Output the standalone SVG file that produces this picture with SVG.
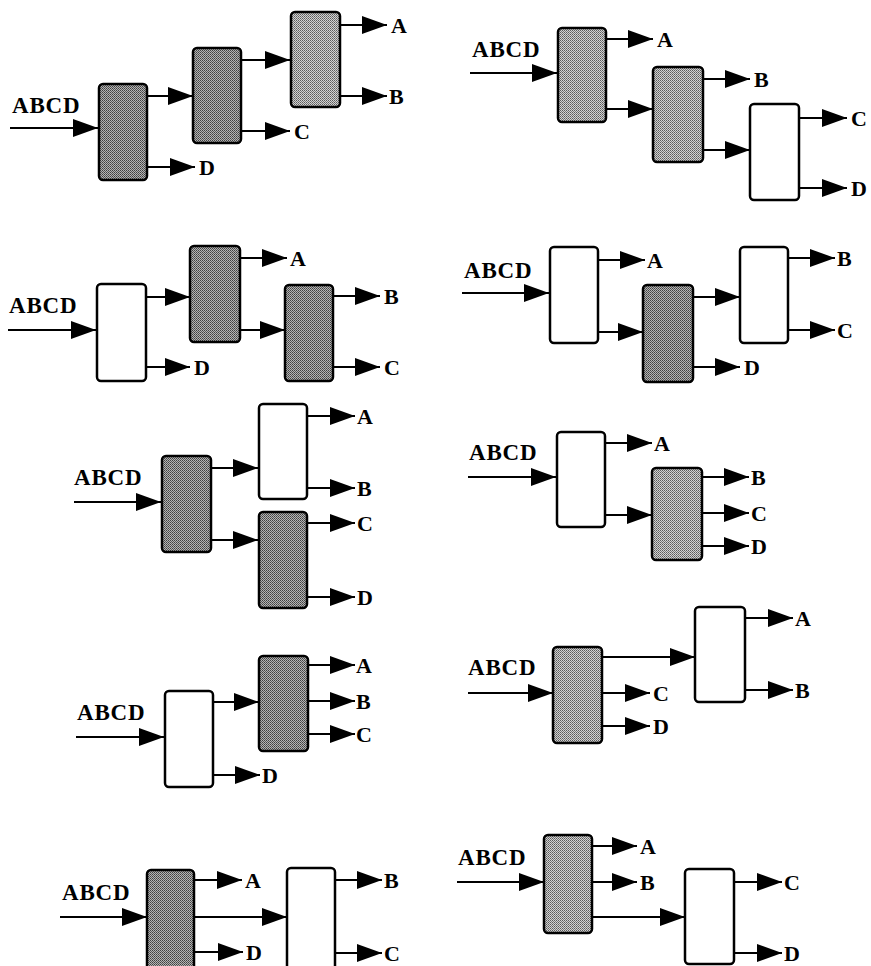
<svg xmlns="http://www.w3.org/2000/svg" width="871" height="966" viewBox="0 0 871 966">
<defs>
<pattern id="dk" width="2" height="2" patternUnits="userSpaceOnUse"><rect width="2" height="2" fill="#b4b4b4"/><rect width="1" height="1" fill="#404040"/><rect x="1" y="1" width="1" height="1" fill="#5a5a5a"/></pattern>
<pattern id="lt" width="2" height="2" patternUnits="userSpaceOnUse"><rect width="2" height="2" fill="#d2d2d2"/><rect width="1" height="1" fill="#5a5a5a"/><rect x="1" y="1" width="1" height="1" fill="#7a7a7a"/></pattern>
<marker id="ah" markerWidth="25" markerHeight="18" refX="25" refY="9" orient="auto" markerUnits="userSpaceOnUse"><path d="M0,0 L25,9 L0,18 z" fill="#000"/></marker>
</defs>
<style>
.b{stroke:#000;stroke-width:2.5;rx:4;ry:4}
.w{fill:#fff}
.d{fill:url(#dk)}
.l{fill:url(#lt)}
.c line{stroke:#000;stroke-width:2;marker-end:url(#ah)}
text{font-family:"Liberation Serif","Times New Roman",serif;font-weight:bold;font-size:22px;fill:#000}
.in{font-size:23px;letter-spacing:0.8px}
</style>
<rect width="871" height="966" fill="#fff"/>

<!-- Diagram 1 -->
<g id="d1">
<text class="in" x="12" y="113">ABCD</text>
<g id="d1n1"><rect class="b d" x="99" y="84" width="48" height="96"/></g>
<g id="d1n2"><rect class="b d" x="193" y="48" width="48" height="95"/></g>
<g id="d1n3"><rect class="b l" x="291" y="12" width="49" height="95"/></g>
<g class="c">
<line x1="10" y1="128" x2="98" y2="128"/>
<line x1="147" y1="96" x2="193" y2="96"/>
<line x1="147" y1="167" x2="195" y2="167"/>
<line x1="241" y1="60" x2="290" y2="60"/>
<line x1="241" y1="131" x2="290" y2="131"/>
<line x1="340" y1="25" x2="387" y2="25"/>
<line x1="340" y1="96" x2="387" y2="96"/>
</g>
<text x="199" y="175">D</text><text x="294" y="139">C</text><text x="391" y="33">A</text><text x="389" y="104">B</text>
</g>

<!-- Diagram 2 -->
<g id="d2">
<text class="in" x="472" y="57">ABCD</text>
<g id="d2n1"><rect class="b l" x="558" y="28" width="48" height="94"/></g>
<g id="d2n2"><rect class="b l" x="653" y="67" width="50" height="95"/></g>
<g id="d2n3"><rect class="b w" x="750" y="104" width="49" height="96"/></g>
<g class="c">
<line x1="470" y1="73" x2="557" y2="73"/>
<line x1="606" y1="39" x2="653" y2="39"/>
<line x1="606" y1="109" x2="653" y2="109"/>
<line x1="703" y1="79" x2="750" y2="79"/>
<line x1="703" y1="150" x2="750" y2="150"/>
<line x1="799" y1="118" x2="847" y2="118"/>
<line x1="799" y1="188" x2="847" y2="188"/>
</g>
<text x="657" y="47">A</text><text x="754" y="87">B</text><text x="851" y="126">C</text><text x="851" y="196">D</text>
</g>

<!-- Diagram 3 -->
<g id="d3">
<text class="in" x="9" y="313">ABCD</text>
<g id="d3n1"><rect class="b w" x="97" y="284" width="49" height="97"/></g>
<g id="d3n2"><rect class="b d" x="190" y="246" width="50" height="96"/></g>
<g id="d3n3"><rect class="b d" x="285" y="285" width="48" height="96"/></g>
<g class="c">
<line x1="8" y1="330" x2="96" y2="330"/>
<line x1="146" y1="297" x2="190" y2="297"/>
<line x1="146" y1="367" x2="190" y2="367"/>
<line x1="240" y1="258" x2="287" y2="258"/>
<line x1="240" y1="330" x2="285" y2="330"/>
<line x1="333" y1="296" x2="380" y2="296"/>
<line x1="333" y1="367" x2="380" y2="367"/>
</g>
<text x="194" y="375">D</text><text x="290" y="266">A</text><text x="384" y="304">B</text><text x="384" y="375">C</text>
</g>

<!-- Diagram 4 -->
<g id="d4">
<text class="in" x="464" y="278">ABCD</text>
<g id="d4n1"><rect class="b w" x="550" y="247" width="48" height="96"/></g>
<g id="d4n2"><rect class="b d" x="643" y="285" width="50" height="97"/></g>
<g id="d4n3"><rect class="b w" x="740" y="247" width="48" height="96"/></g>
<g class="c">
<line x1="462" y1="293" x2="549" y2="293"/>
<line x1="598" y1="260" x2="645" y2="260"/>
<line x1="598" y1="332" x2="643" y2="332"/>
<line x1="693" y1="297" x2="740" y2="297"/>
<line x1="693" y1="367" x2="740" y2="367"/>
<line x1="788" y1="258" x2="835" y2="258"/>
<line x1="788" y1="330" x2="835" y2="330"/>
</g>
<text x="647" y="268">A</text><text x="744" y="375">D</text><text x="837" y="266">B</text><text x="837" y="338">C</text>
</g>

<!-- Diagram 5 -->
<g id="d5">
<text class="in" x="74" y="485">ABCD</text>
<g id="d5n1"><rect class="b d" x="162" y="456" width="49" height="96"/></g>
<g id="d5n2"><rect class="b w" x="259" y="404" width="48" height="95"/></g>
<g id="d5n3"><rect class="b d" x="259" y="512" width="48" height="96"/></g>
<g class="c">
<line x1="74" y1="502" x2="161" y2="502"/>
<line x1="211" y1="468" x2="258" y2="468"/>
<line x1="211" y1="540" x2="258" y2="540"/>
<line x1="307" y1="416" x2="355" y2="416"/>
<line x1="307" y1="488" x2="355" y2="488"/>
<line x1="307" y1="523" x2="355" y2="523"/>
<line x1="307" y1="597" x2="355" y2="597"/>
</g>
<text x="357" y="424">A</text><text x="357" y="496">B</text><text x="357" y="531">C</text><text x="357" y="605">D</text>
</g>

<!-- Diagram 6 -->
<g id="d6">
<text class="in" x="469" y="460">ABCD</text>
<g id="d6n1"><rect class="b w" x="557" y="432" width="48" height="95"/></g>
<g id="d6n2"><rect class="b l" x="652" y="468" width="50" height="92"/></g>
<g class="c">
<line x1="468" y1="477" x2="556" y2="477"/>
<line x1="605" y1="443" x2="652" y2="443"/>
<line x1="605" y1="515" x2="652" y2="515"/>
<line x1="702" y1="477" x2="749" y2="477"/>
<line x1="702" y1="513" x2="749" y2="513"/>
<line x1="702" y1="546" x2="749" y2="546"/>
</g>
<text x="654" y="451">A</text><text x="751" y="485">B</text><text x="751" y="521">C</text><text x="751" y="554">D</text>
</g>

<!-- Diagram 7 -->
<g id="d7">
<text class="in" x="77" y="720">ABCD</text>
<g id="d7n1"><rect class="b w" x="165" y="691" width="48" height="96"/></g>
<g id="d7n2"><rect class="b d" x="259" y="656" width="49" height="95"/></g>
<g class="c">
<line x1="76" y1="737" x2="164" y2="737"/>
<line x1="213" y1="702" x2="259" y2="702"/>
<line x1="213" y1="775" x2="260" y2="775"/>
<line x1="308" y1="665" x2="355" y2="665"/>
<line x1="308" y1="701" x2="355" y2="701"/>
<line x1="308" y1="734" x2="355" y2="734"/>
</g>
<text x="262" y="783">D</text><text x="356" y="673">A</text><text x="356" y="709">B</text><text x="356" y="742">C</text>
</g>

<!-- Diagram 8 -->
<g id="d8">
<text class="in" x="468" y="675">ABCD</text>
<g id="d8n1"><rect class="b l" x="553" y="647" width="49" height="96"/></g>
<g id="d8n2"><rect class="b w" x="695" y="607" width="50" height="95"/></g>
<g class="c">
<line x1="468" y1="693" x2="553" y2="693"/>
<line x1="602" y1="657" x2="695" y2="657"/>
<line x1="602" y1="693" x2="650" y2="693"/>
<line x1="602" y1="726" x2="650" y2="726"/>
<line x1="745" y1="618" x2="793" y2="618"/>
<line x1="745" y1="690" x2="793" y2="690"/>
</g>
<text x="653" y="701">C</text><text x="653" y="734">D</text><text x="795" y="626">A</text><text x="795" y="698">B</text>
</g>

<!-- Diagram 9 -->
<g id="d9">
<text class="in" x="62" y="900">ABCD</text>
<g id="d9n1"><rect class="b d" x="147" y="870" width="47" height="105"/></g>
<g id="d9n2"><rect class="b w" x="287" y="868" width="48" height="105"/></g>
<g class="c">
<line x1="60" y1="917" x2="147" y2="917"/>
<line x1="194" y1="880" x2="242" y2="880"/>
<line x1="194" y1="917" x2="287" y2="917"/>
<line x1="194" y1="952" x2="243" y2="952"/>
<line x1="335" y1="880" x2="382" y2="880"/>
<line x1="335" y1="953" x2="382" y2="953"/>
</g>
<text x="245" y="888">A</text><text x="246" y="960">D</text><text x="384" y="888">B</text><text x="384" y="961">C</text>
</g>

<!-- Diagram 10 -->
<g id="d10">
<text class="in" x="458" y="865">ABCD</text>
<g id="d10n1"><rect class="b l" x="544" y="835" width="48" height="98"/></g>
<g id="d10n2"><rect class="b w" x="685" y="869" width="49" height="95"/></g>
<g class="c">
<line x1="457" y1="882" x2="544" y2="882"/>
<line x1="592" y1="846" x2="637" y2="846"/>
<line x1="592" y1="882" x2="637" y2="882"/>
<line x1="592" y1="917" x2="685" y2="917"/>
<line x1="734" y1="882" x2="782" y2="882"/>
<line x1="734" y1="953" x2="782" y2="953"/>
</g>
<text x="640" y="854">A</text><text x="640" y="890">B</text><text x="784" y="890">C</text><text x="784" y="961">D</text>
</g>
</svg>
